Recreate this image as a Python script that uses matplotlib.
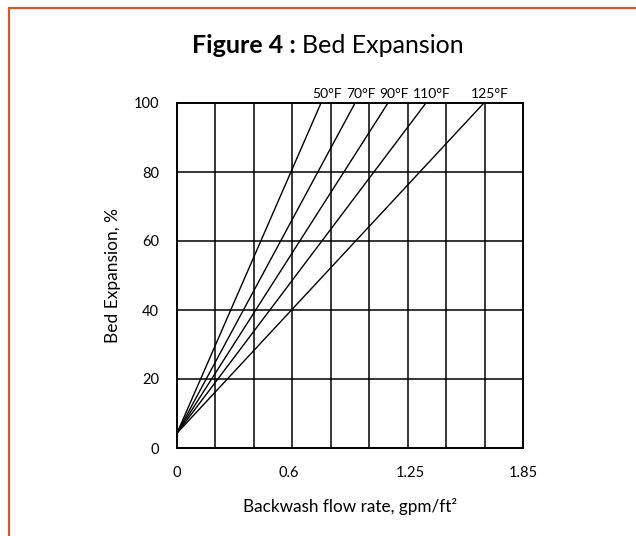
import matplotlib
matplotlib.use('Agg')
import matplotlib.pyplot as plt
import matplotlib.patches as mpatches
import numpy as np

plt.rcParams['font.family'] = ['Lato', 'DejaVu Sans']

# flow rate (gpm/ft2) where each temperature line reaches 100 % expansion
temps = ['50°F', '70°F', '90°F', '110°F', '125°F']
flow_at_100 = [0.770, 0.952, 1.128, 1.331, 1.641]
start_expansion = 4.3
end_expansion = 100

x_ticks = [0, 0.6, 1.25, 1.85]
x_tick_labels = ['0', '0.6', '1.25', '1.85']
y_ticks = [0, 20, 40, 60, 80, 100]

fig = plt.figure(figsize=(6.36, 5.36), dpi=100)
ax = fig.add_axes([177 / 636, 88 / 536, 346 / 636, 345 / 536])

ax.set_xlim(0, 1.85)
ax.set_ylim(0, 100)

# grid: 9 vertical divisions, 5 horizontal
for gx in np.linspace(0, 1.85, 10)[1:-1]:
    ax.axvline(gx, color='black', lw=1.1, zorder=1)
for gy in y_ticks[1:-1]:
    ax.axhline(gy, color='black', lw=1.1, zorder=1)

for t, xe in zip(temps, flow_at_100):
    ax.plot([0, xe], [start_expansion, end_expansion], color='black', lw=1.0, zorder=2)
    ax.annotate(t, xy=(xe, end_expansion), xytext=(4, 2), textcoords='offset points',
                ha='center', va='bottom', fontsize=10, annotation_clip=False)

for s in ax.spines.values():
    s.set_linewidth(1.4)
    s.set_color('black')

ax.set_xticks(x_ticks)
ax.set_xticklabels(x_tick_labels)
ax.set_yticks(y_ticks)
ax.tick_params(length=0, labelsize=10.5, pad=13)
ax.tick_params(axis='y', pad=13)

ax.set_xlabel('Backwash flow rate, gpm/ft²', fontsize=12.3, labelpad=13)
ax.set_ylabel('Bed Expansion, %', fontsize=12.5, labelpad=9)

fig.text(296 / 636, 1 - 53 / 536, 'Figure 4 :', fontsize=18, fontweight='bold',
         ha='right', va='baseline')
fig.text(302 / 636, 1 - 53 / 536, 'Bed Expansion', fontsize=18,
         ha='left', va='baseline')

# orange frame, right and bottom edges fall outside the picture
frame = mpatches.Rectangle((9 / 636, -0.1), 1.2, 1 - 8 / 536 + 0.1,
                           transform=fig.transFigure, fill=False,
                           edgecolor='#D05A2B', lw=1.6)
fig.patches.append(frame)

fig.savefig('out.png', dpi=100)
